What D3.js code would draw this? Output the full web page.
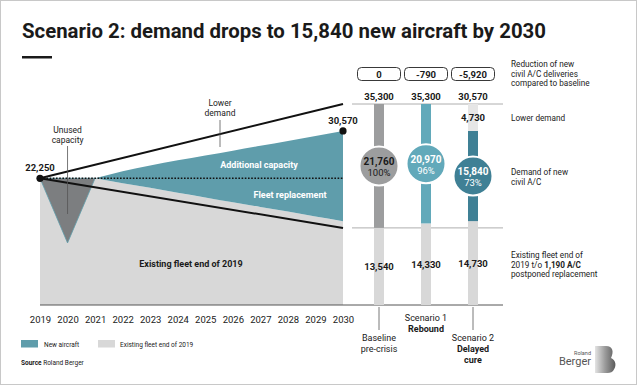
<!DOCTYPE html>
<html>
<head>
<meta charset="utf-8">
<script src="https://cdn.jsdelivr.net/npm/d3@7/dist/d3.min.js"></script>
<style>
body { margin: 0; background: #fff; }
text { font-family: Roboto, "Noto Sans", sans-serif; fill: #1a1a1a; }
</style>
</head>
<body>
<svg id="chart" width="637" height="385"></svg>
<script>
// left chart: scenario 2 timeline
var years = [2019, 2020, 2021, 2022, 2023, 2024, 2025, 2026, 2027, 2028, 2029, 2030];
var fleetExisting = [22250, 22250, 22250, 21400, 20570, 19730, 18900, 18060, 17230, 16400, 15560, 14730];
var newAircraftTop = [null, null, 22250, 23500, 24500, 25400, 26250, 27100, 27950, 28800, 29700, 30570];
var unusedYears = [2019, 2020, 2021];
var unusedLow = [22250, 10900, 22250];
var preCrisisDemand = [22250, 35300];   // 2019 -> 2030
var fleetRetirement = [22250, 13540];   // 2019 -> 2030
var startValue = 22250;
var endValue = 30570;

// right chart: scenario comparison
var scenarioNames = ["Baseline", "Scenario 1", "Scenario 2"];
var scenarioSub = [["pre-crisis"], ["Rebound"], ["Delayed", "cure"]];
var totalDemand = [35300, 35300, 30570];
var newDemand = [21760, 20970, 15840];
var existingFleet = [13540, 14330, 14730];
var lowerDemand = [0, 0, 4730];
var shareLabels = ["100%", "96%", "73%"];
var reductionLabels = ["0", "-790", "-5,920"];

var teal = "#5f9dab";
var lightGray = "#d8d8d8";
var barColors = ["#9c9d9e", "#62a9ba", "#3f8095"];

var svg = d3.select("#chart");
var fmt = d3.format(",");

svg.append("rect").attr("x", 0.5).attr("y", 0.5).attr("width", 636).attr("height", 384)
  .attr("fill", "#fff").attr("stroke", "#c8c8c8");

// title
svg.append("text").attr("x", 22).attr("y", 38)
  .attr("font-size", 21).attr("font-weight", 700)
  .attr("textLength", 524).attr("lengthAdjust", "spacingAndGlyphs")
  .text("Scenario 2: demand drops to 15,840 new aircraft by 2030");
svg.append("rect").attr("x", 22).attr("y", 56).attr("width", 30).attr("height", 2.5).attr("fill", "#1a1a1a");

var x = d3.scaleLinear().domain([2019, 2030]).range([40, 343]);
var y = d3.scaleLinear().domain([0, 35300]).range([305, 104]);

var timeline = years.map(function(yr, i) {
  return { year: yr, fleet: fleetExisting[i], top: newAircraftTop[i] };
});

// existing fleet area
svg.append("path")
  .datum(timeline)
  .attr("fill", lightGray)
  .attr("d", d3.area().x(d => x(d.year)).y0(y(0)).y1(d => y(d.fleet)));

// new aircraft area
svg.append("path")
  .datum(timeline.filter(d => d.top != null))
  .attr("fill", teal)
  .attr("d", d3.area().curve(d3.curveMonotoneX).x(d => x(d.year)).y0(d => y(d.fleet)).y1(d => y(d.top)));

// unused capacity dip
var unused = unusedYears.map((yr, i) => ({ year: yr, low: unusedLow[i] }));
svg.append("path")
  .datum(unused)
  .attr("fill", "#7c7e80")
  .attr("stroke", teal)
  .attr("stroke-width", 0.8)
  .attr("d", d3.area().x(d => x(d.year)).y0(y(startValue)).y1(d => y(d.low)));

// lines
var line = d3.line().x(d => x(d[0])).y(d => y(d[1]));
svg.append("path").attr("d", line([[2019, preCrisisDemand[0]], [2030, preCrisisDemand[1]]]))
  .attr("stroke", "#111").attr("stroke-width", 2).attr("fill", "none");
svg.append("path").attr("d", line([[2019, fleetRetirement[0]], [2030, fleetRetirement[1]]]))
  .attr("stroke", "#111").attr("stroke-width", 2).attr("fill", "none");
svg.append("path").attr("d", line([[2019, startValue], [2030, startValue]]))
  .attr("stroke", "#111").attr("stroke-width", 1.6).attr("stroke-dasharray", "1.6,1.6").attr("fill", "none");

svg.append("circle").attr("cx", x(2019)).attr("cy", y(startValue)).attr("r", 3.6).attr("fill", "#111");
svg.append("circle").attr("cx", x(2030)).attr("cy", y(endValue)).attr("r", 3.6).attr("fill", "#111");
svg.append("text").attr("x", x(2019)).attr("y", y(startValue) - 7).attr("text-anchor", "middle")
  .attr("font-size", 9.5).attr("font-weight", 700).text(fmt(startValue));
svg.append("text").attr("x", x(2030)).attr("y", y(endValue) - 7).attr("text-anchor", "middle")
  .attr("font-size", 9.5).attr("font-weight", 700).text(fmt(endValue));

// annotations
svg.append("line").attr("x1", x(2020)).attr("x2", x(2020)).attr("y1", 146).attr("y2", 214)
  .attr("stroke", "#555").attr("stroke-width", 0.8);
svg.append("text").attr("x", x(2020)).attr("y", 133).attr("text-anchor", "middle").attr("font-size", 8.5).text("Unused");
svg.append("text").attr("x", x(2020)).attr("y", 143).attr("text-anchor", "middle").attr("font-size", 8.5).text("capacity");
svg.append("line").attr("x1", 220).attr("x2", 220).attr("y1", 120).attr("y2", 147)
  .attr("stroke", "#555").attr("stroke-width", 0.8);
svg.append("text").attr("x", 220).attr("y", 106).attr("text-anchor", "middle").attr("font-size", 8.5).text("Lower");
svg.append("text").attr("x", 220).attr("y", 116).attr("text-anchor", "middle").attr("font-size", 8.5).text("demand");

svg.append("text").attr("x", 259).attr("y", 168).attr("text-anchor", "middle").attr("font-size", 9)
  .attr("font-weight", 700).style("fill", "#fff").text("Additional capacity");
svg.append("text").attr("x", 290).attr("y", 198).attr("text-anchor", "middle").attr("font-size", 9)
  .attr("font-weight", 700).style("fill", "#fff").text("Fleet replacement");
svg.append("text").attr("x", 191).attr("y", 267).attr("text-anchor", "middle").attr("font-size", 9)
  .attr("font-weight", 700).text("Existing fleet end of 2019");

// x axis
var xAxis = svg.append("g").attr("transform", "translate(0,313)")
  .call(d3.axisBottom(x).tickValues(years).tickSize(0).tickFormat(d3.format("d")));
xAxis.select(".domain").remove();
xAxis.selectAll("text").attr("font-size", 9.5).style("font-family", "Roboto, sans-serif").style("fill", "#1a1a1a");

svg.append("line").attr("x1", 40).attr("x2", 503).attr("y1", y(0)).attr("y2", y(0))
  .attr("stroke", "#555").attr("stroke-width", 1);
svg.append("line").attr("x1", 352).attr("x2", 503).attr("y1", y(35300)).attr("y2", y(35300))
  .attr("stroke", "#999").attr("stroke-width", 0.8);
svg.append("line").attr("x1", 352).attr("x2", 503).attr("y1", y(13540)).attr("y2", y(13540))
  .attr("stroke", "#999").attr("stroke-width", 0.8);

// scenario bars
var bx = d3.scalePoint().domain(scenarioNames).range([379, 473]);
var bw = 10;
scenarioNames.forEach(function(name, i) {
  var cx = bx(name);
  var g = svg.append("g");
  g.append("rect").attr("x", cx - bw / 2).attr("width", bw)
    .attr("y", y(existingFleet[i])).attr("height", y(0) - y(existingFleet[i])).attr("fill", lightGray);
  g.append("rect").attr("x", cx - bw / 2).attr("width", bw)
    .attr("y", y(existingFleet[i] + newDemand[i])).attr("height", y(existingFleet[i]) - y(existingFleet[i] + newDemand[i]))
    .attr("fill", barColors[i]);
  if (lowerDemand[i] > 0) {
    var top = existingFleet[i] + newDemand[i] + lowerDemand[i];
    g.append("rect").attr("x", cx - bw / 2).attr("width", bw)
      .attr("y", y(top)).attr("height", y(totalDemand[i]) - y(top)).attr("fill", "#e6e6e6");
    g.append("text").attr("x", cx).attr("y", (y(top) + y(totalDemand[i])) / 2 + 4).attr("text-anchor", "middle")
      .attr("font-size", 9.5).attr("font-weight", 700).text(fmt(lowerDemand[i]));
  }
  var cy = (y(existingFleet[i]) + y(existingFleet[i] + newDemand[i])) / 2;
  g.append("circle").attr("cx", cx).attr("cy", cy).attr("r", 19.5)
    .attr("fill", barColors[i]).attr("stroke", "#fff").attr("stroke-width", 2);
  var tc = i == 0 ? "#1a1a1a" : "#fff";
  g.append("text").attr("x", cx).attr("y", cy - 1).attr("text-anchor", "middle")
    .attr("font-size", 10).attr("font-weight", 700).style("fill", tc).text(fmt(newDemand[i]));
  g.append("text").attr("x", cx).attr("y", cy + 10).attr("text-anchor", "middle")
    .attr("font-size", 9.5).style("fill", tc).text(shareLabels[i]);

  g.append("text").attr("x", cx).attr("y", 100).attr("text-anchor", "middle")
    .attr("font-size", 9.5).attr("font-weight", 700).text(fmt(totalDemand[i]));
  g.append("text").attr("x", cx).attr("y", y(existingFleet[i] / 2) + 4).attr("text-anchor", "middle")
    .attr("font-size", 9.5).attr("font-weight", 700).text(fmt(existingFleet[i]));

  g.append("rect").attr("x", cx - 21.5).attr("y", 67.5).attr("width", 43).attr("height", 13).attr("rx", 4)
    .attr("fill", "#fff").attr("stroke", "#222").attr("stroke-width", 0.9);
  g.append("text").attr("x", cx).attr("y", 77.5).attr("text-anchor", "middle")
    .attr("font-size", 9.5).attr("font-weight", 700).text(reductionLabels[i]);
});

// scenario labels under the axis
[0, 2].forEach(function(i) {
  svg.append("line").attr("x1", bx(scenarioNames[i])).attr("x2", bx(scenarioNames[i]))
    .attr("y1", 307).attr("y2", 330).attr("stroke", "#555").attr("stroke-width", 0.8);
});
var labelY = [341, 321, 341];
scenarioNames.forEach(function(name, i) {
  var t = svg.append("text").attr("x", bx(name)).attr("y", labelY[i]).attr("text-anchor", "middle").attr("font-size", 9);
  t.append("tspan").attr("x", bx(name)).text(name);
  scenarioSub[i].forEach(function(s) {
    t.append("tspan").attr("x", bx(name)).attr("dy", 11).attr("font-weight", i == 0 ? 400 : 700).text(s);
  });
});

// right notes
function note(lines, yy) {
  var t = svg.append("text").attr("x", 511).attr("y", yy).attr("font-size", 8.2).style("fill", "#222");
  lines.forEach(function(l, k) {
    var ts = t.append("tspan").attr("x", 511).attr("dy", k == 0 ? 0 : 9.5);
    l.forEach(function(part) {
      ts.append("tspan").attr("font-weight", part[1] ? 700 : 400).text(part[0]);
    });
  });
}
note([[["Reduction of new"]], [["civil A/C deliveries"]], [["compared to baseline"]]], 67);
note([[["Lower demand"]]], 121);
note([[["Demand of new"]], [["civil A/C"]]], 175);
note([[["Existing fleet end of"]], [["2019 t/o "], ["1,190 A/C", true]], [["postponed replacement"]]], 258);

// legend
svg.append("rect").attr("x", 21).attr("y", 340).attr("width", 17).attr("height", 7.5).attr("fill", teal);
svg.append("text").attr("x", 44).attr("y", 346.5).attr("font-size", 6.5).text("New aircraft");
svg.append("rect").attr("x", 98).attr("y", 340).attr("width", 17).attr("height", 7.5).attr("fill", lightGray);
svg.append("text").attr("x", 120).attr("y", 346.5).attr("font-size", 6.5).text("Existing fleet end of 2019");
var src = svg.append("text").attr("x", 21).attr("y", 365).attr("font-size", 6.5);
src.append("tspan").attr("font-weight", 700).text("Source ");
src.append("tspan").text("Roland Berger");

// logo
var grad = svg.append("defs").append("linearGradient").attr("id", "logoGrad").attr("x1", 0).attr("x2", 1);
grad.append("stop").attr("offset", 0).attr("stop-color", "#e4e4e4");
grad.append("stop").attr("offset", 0.5).attr("stop-color", "#9a9a9a");
grad.append("stop").attr("offset", 1).attr("stop-color", "#5a5a5a");
svg.append("path")
  .attr("d", "M595,346 L606,346 C613,346 614,352 611,358 C616,360 617,366 613,371 C611,373 608,373 606,373 L595,373 Z")
  .attr("fill", "url(#logoGrad)");
svg.append("text").attr("x", 591).attr("y", 355).attr("text-anchor", "end").attr("font-size", 5.5).style("fill", "#555").text("Roland");
svg.append("text").attr("x", 591).attr("y", 365).attr("text-anchor", "end").attr("font-size", 11).style("fill", "#555").text("Berger");
</script>
</body>
</html>
